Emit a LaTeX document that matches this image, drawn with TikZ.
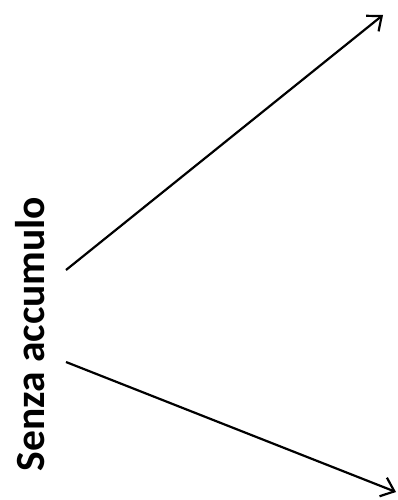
\documentclass[tikz,border=0pt]{standalone}
\usepackage{fontspec}
\setmainfont{Carlito}
\usetikzlibrary{arrows.meta}
\tikzset{
  label/.style={font=\bfseries\fontsize{41.5}{44}\selectfont, rotate=90, inner sep=0pt, anchor=center},
  arr/.style={line width=2.2pt, -{Straight Barb[length=12pt,width=20pt,line width=2.2pt]}}
}
\begin{document}
\begin{tikzpicture}[x=1pt,y=-1pt]
\useasboundingbox (0,0) rectangle (398,500);
\node[label] (t) at (30,334) {Senza accumulo};
\coordinate (s1) at (66,270);
\coordinate (e1) at (383,15);
\coordinate (s2) at (66,362);
\coordinate (e2) at (396,492);
\draw[arr] (s1) -- (e1);
\draw[arr] (s2) -- (e2);
\end{tikzpicture}
\end{document}
